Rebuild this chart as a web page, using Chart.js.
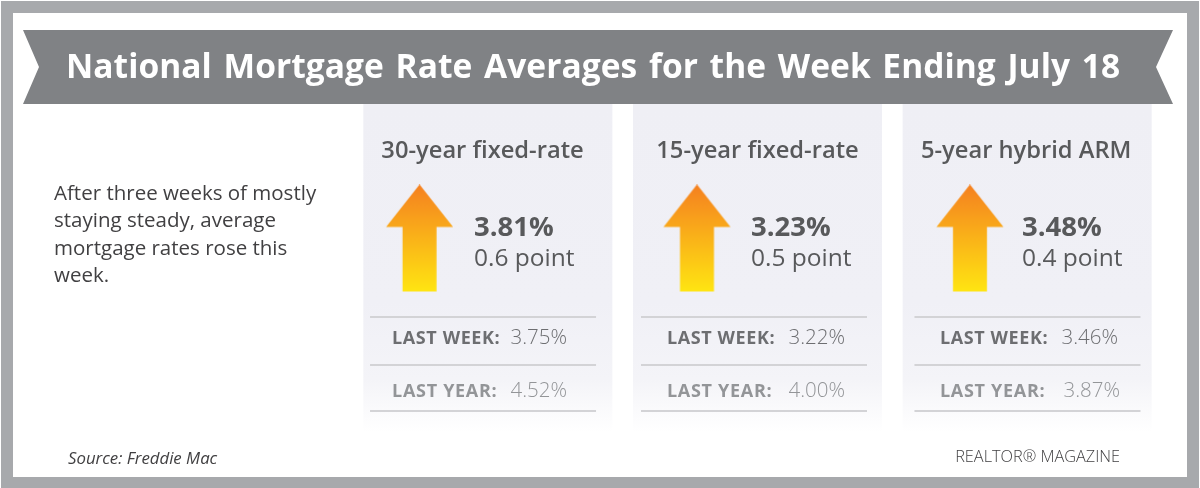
<!DOCTYPE html>
<html>
<head>
<meta charset="utf-8">
<style>
  html, body { margin: 0; padding: 0; background: #fff; }
  canvas { display: block; }
</style>
<script src="https://cdn.jsdelivr.net/npm/chart.js@4/dist/chart.umd.js"></script>
</head>
<body>
<canvas id="rates" width="1200" height="488"></canvas>
<script>
'use strict';

const title = 'National Mortgage Rate Averages for the Week Ending July 18';
const intro = ['After three weeks of mostly', 'staying steady, average', 'mortgage rates rose this', 'week.'];
const source = 'Source: Freddie Mac';
const brand = 'REALTOR\u00AE MAGAZINE';

const categories = ['30-year fixed-rate', '15-year fixed-rate', '5-year hybrid ARM'];
const rates = ['3.81%', '3.23%', '3.48%'];
const changes = ['0.6 point', '0.5 point', '0.4 point'];
const lastWeek = ['3.75%', '3.22%', '3.46%'];
const lastYear = ['4.52%', '4.00%', '3.87%'];
const direction = [1, 1, 1];
const panelFill = [1, 1, 1];

const FONT = '"Open Sans"';

// horizontal nudges from each panel centre, the original is not quite regular
const headDx = [-5.3, 0, -1];
const arrowDx = [-68.3, -60.5, -57.2];
const rateDx = [-13.8, -6.5, -5.2];
const labelDx = [-95.8, -90.5, -87.2];
const weekDx = [79.2, 87.5, 90.8];
const yearDx = [79.2, 87.5, 92.8];
const ruleDx = [-117.8, -116.5, -112.7];

function makeArrow(dx) {
  const c = document.createElement('canvas');
  c.width = 270;
  c.height = 108;
  const g = c.getContext('2d');
  const mid = 135 + dx;
  const grad = g.createLinearGradient(0, 0, 0, 107);
  grad.addColorStop(0, '#f58020');
  grad.addColorStop(1, '#ffe512');
  g.fillStyle = grad;
  g.beginPath();
  g.moveTo(mid, 0);
  g.lineTo(mid + 33.5, 42.5);
  g.lineTo(mid + 17, 42.5);
  g.lineTo(mid + 17, 107);
  g.lineTo(mid - 17, 107);
  g.lineTo(mid - 17, 42.5);
  g.lineTo(mid - 33.5, 42.5);
  g.closePath();
  g.fill();
  return c;
}

function put(ctx, text, x, y, font, color, align, spacing, wordSpacing) {
  ctx.font = font;
  ctx.fillStyle = color;
  ctx.textAlign = align || 'left';
  ctx.textBaseline = 'alphabetic';
  ctx.letterSpacing = (spacing || 0) + 'px';
  ctx.wordSpacing = (wordSpacing || 0) + 'px';
  ctx.fillText(text, x, y);
}

const backdrop = {
  id: 'backdrop',
  beforeDraw(chart) {
    const ctx = chart.ctx;
    ctx.save();
    ctx.fillStyle = '#fff';
    ctx.fillRect(0, 0, 1200, 488);
    ctx.strokeStyle = '#a7a9ac';
    ctx.lineWidth = 12;
    ctx.strokeRect(7, 7, 1186, 476);
    ctx.fillStyle = '#808285';
    ctx.beginPath();
    ctx.moveTo(23, 30);
    ctx.lineTo(1173, 30);
    ctx.lineTo(1156, 67);
    ctx.lineTo(1173, 104);
    ctx.lineTo(23, 104);
    ctx.lineTo(39, 67);
    ctx.closePath();
    ctx.fill();
    ctx.restore();
  }
};

const copy = {
  id: 'copy',
  afterDraw(chart) {
    const ctx = chart.ctx;
    const x = chart.scales.x;
    ctx.save();
    put(ctx, title, 66, 78, '700 33.5px ' + FONT, '#fff', 'left', 0.05, 2.9);
    intro.forEach((line, i) => {
      put(ctx, line, 54, 200 + i * 27.3, '400 20.5px ' + FONT, '#414042');
    });
    put(ctx, source, 68, 464, 'italic 400 16.8px ' + FONT, '#414042');
    put(ctx, brand, 1120, 462, '300 16.3px ' + FONT, '#414042', 'right');

    categories.forEach((name, i) => {
      const mid = x.getPixelForValue(i);
      put(ctx, name, mid + headDx[i], 158, '600 23.7px ' + FONT, '#58595b', 'center');
      put(ctx, rates[i], mid + rateDx[i], 236, '700 27.5px ' + FONT, '#58595b');
      put(ctx, changes[i], mid + rateDx[i], 266, '400 24.5px ' + FONT, '#58595b');

      [317, 365, 411].forEach(y => {
        ctx.fillStyle = '#d3d3d6';
        ctx.fillRect(mid + ruleDx[i], y - 1, 226, 2);
      });

      put(ctx, 'LAST WEEK:', mid + labelDx[i], 344, '700 18px ' + FONT, '#6d6e71', 'left', 0.6);
      put(ctx, lastWeek[i], mid + weekDx[i], 344, '300 20.5px ' + FONT, '#6d6e71', 'right');
      put(ctx, 'LAST YEAR:', mid + labelDx[i], 397, '700 18px ' + FONT, '#939598', 'left', 0.7);
      put(ctx, lastYear[i], mid + yearDx[i], 397, '300 20.5px ' + FONT, '#939598', 'right');
    });
    ctx.restore();
  }
};

new Chart(document.getElementById('rates'), {
  data: {
    labels: categories,
    datasets: [
      {
        type: 'line',
        label: 'Direction',
        data: direction,
        yAxisID: 'yDir',
        showLine: false,
        clip: false,
        pointStyle: arrowDx.map(makeArrow),
        order: 1
      },
      {
        type: 'bar',
        label: 'Panel',
        data: panelFill,
        yAxisID: 'y',
        barPercentage: 0.9235,
        categoryPercentage: 1,
        borderWidth: 0,
        backgroundColor(c) {
          const grad = c.chart.ctx.createLinearGradient(0, 104, 0, 432);
          grad.addColorStop(0, '#efeff5');
          grad.addColorStop(0.6, '#f0f0f6');
          grad.addColorStop(0.84, '#f4f4f8');
          grad.addColorStop(1, '#ffffff');
          return grad;
        },
        order: 2
      }
    ]
  },
  options: {
    responsive: false,
    animation: false,
    events: [],
    layout: { padding: { left: 353, right: 38, top: 104, bottom: 56 } },
    plugins: {
      legend: { display: false },
      title: { display: false },
      tooltip: { enabled: false }
    },
    scales: {
      x: { display: false },
      y: { display: false, min: 0, max: 1 },
      yDir: { display: false, min: -1, max: 2.39 }
    }
  },
  plugins: [backdrop, copy]
});
</script>
</body>
</html>
